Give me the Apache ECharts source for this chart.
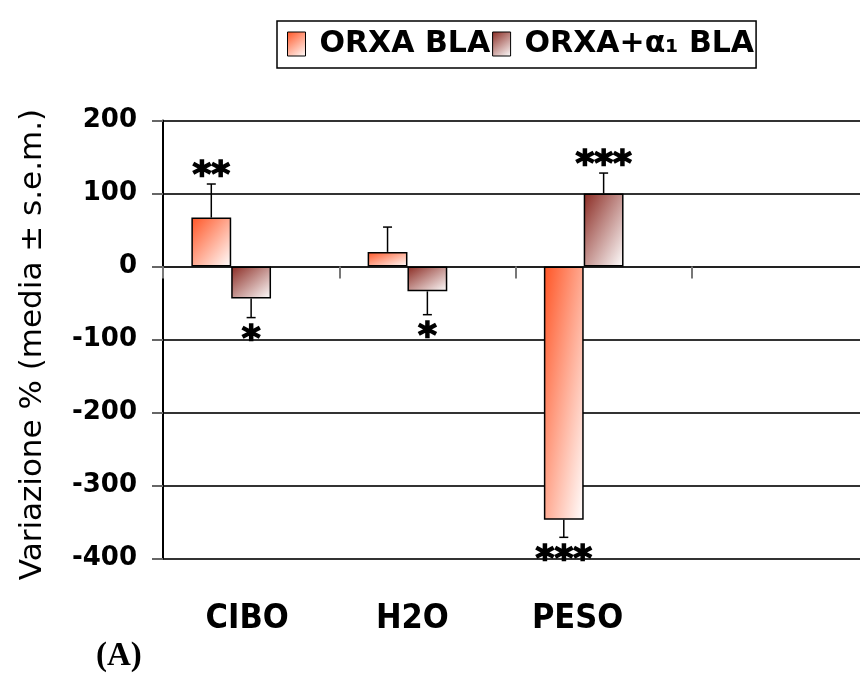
<!DOCTYPE html>
<html>
<head>
<meta charset="utf-8">
<script src="https://cdn.jsdelivr.net/npm/echarts@6/dist/echarts.min.js"></script>
<style>
  html, body { margin: 0; padding: 0; background: #fff; }
  #chart { width: 860px; height: 682px; }
</style>
</head>
<body>
<div id="chart"></div>
<script>
// Percent change (mean ± s.e.m.) for food, water and body weight
const categories = ['CIBO', 'H2O', 'PESO', ''];
const seriesNames = ['ORXA BLA', 'ORXA+α₁ BLA'];
const orxaValues = [67, 20, -347, '-'];
const orxaErrors = [46, 34, 24, 0];
const orxaStars = ['**', '', '***', ''];
const alphaValues = [-44, -34, 100, '-'];
const alphaErrors = [26, 32, 28, 0];
const alphaStars = ['*', '*', '***', ''];
const yTicks = [-400, -300, -200, -100, 0, 100, 200];

const ORANGE = '#ff5424';
const MAROON = '#8a2a22';
const BAR_FRACTION = 0.226;
const STAR_FONT = 36;

const chart = echarts.init(document.getElementById('chart'), null, { renderer: 'canvas' });

function boxGradient(from, x2, y2) {
  return new echarts.graphic.LinearGradient(0, 0, x2, y2, [
    { offset: 0, color: from },
    { offset: 1, color: '#ffffff' }
  ]);
}

// Error bar with cap and significance stars; slot is the bar's offset in bar widths
function errorRenderer(slot, values, errors, stars) {
  return function (params, api) {
    const i = params.dataIndex;
    const v = values[i];
    if (v === '-' || errors[i] === 0) return null;
    const sign = v >= 0 ? 1 : -1;
    const bw = api.size([1, 0])[0] * BAR_FRACTION;
    const base = api.coord([i, v]);
    const tip = api.coord([i, v + sign * errors[i]]);
    const x = base[0] + slot * bw;
    const children = [
      { type: 'line', shape: { x1: x, y1: base[1], x2: x, y2: tip[1] },
        style: { stroke: '#000', lineWidth: 1.5 } },
      { type: 'line', shape: { x1: x - 4.5, y1: tip[1], x2: x + 4.5, y2: tip[1] },
        style: { stroke: '#000', lineWidth: 1.5 } }
    ];
    if (stars[i]) {
      // the asterisk glyph sits high in its line box, so shift the box down
      const cy = tip[1] - sign * 15 + STAR_FONT * 0.22;
      children.push({
        type: 'text',
        style: {
          x: x, y: cy, text: stars[i],
          font: 'bold ' + STAR_FONT + 'px "DejaVu Sans"',
          fill: '#000', stroke: '#000', lineWidth: 1.5,
          align: 'center', verticalAlign: 'middle'
        }
      });
    }
    return { type: 'group', children: children };
  };
}

const option = {
  animation: false,
  backgroundColor: '#ffffff',
  legend: {
    data: seriesNames,
    left: 277,
    top: 21,
    orient: 'horizontal',
    icon: 'rect',
    itemWidth: 18,
    itemHeight: 24,
    itemGap: 2,
    borderColor: '#000',
    borderWidth: 1.5,
    padding: [8, 2, 9, 10],
    itemStyle: { borderColor: '#000', borderWidth: 1 },
    textStyle: {
      fontFamily: '"DejaVu Sans"', fontWeight: 'bold', fontSize: 30,
      color: '#000', padding: [0, 0, 0, 9]
    }
  },
  grid: [
    {
      // plotting area
      left: 163, width: 705, top: 120.5, height: 438,
      containLabel: false, outerBoundsMode: 'none'
    },
    {
      // band that carries the category names under the plot
      left: 164.5, width: 661, top: 120.5, height: 438,
      containLabel: false, outerBoundsMode: 'none'
    }
  ],
  xAxis: [
    {
      type: 'category',
      gridIndex: 0,
      data: categories,
      axisLine: { onZero: true, lineStyle: { color: '#222', width: 2 } },
      axisTick: { show: true, length: 12, interval: 0, lineStyle: { color: '#777', width: 2 } },
      axisLabel: { show: false },
      splitLine: { show: false }
    },
    {
      type: 'category',
      gridIndex: 1,
      data: categories,
      position: 'bottom',
      axisLine: { show: false, onZero: false },
      axisTick: { show: false },
      axisLabel: {
        margin: 44,
        fontFamily: '"Liberation Sans Narrow", "DejaVu Sans Condensed", sans-serif',
        fontWeight: 'bold', fontSize: 34, color: '#000'
      },
      splitLine: { show: false }
    }
  ],
  yAxis: [
    {
      type: 'value',
      gridIndex: 0,
      min: yTicks[0],
      max: yTicks[yTicks.length - 1],
      interval: 100,
      name: 'Variazione % (media ± s.e.m.)',
      nameLocation: 'middle',
      nameRotate: 90,
      nameGap: 115,
      nameTextStyle: {
        fontFamily: '"DejaVu Sans"', fontSize: 31, color: '#000', padding: [0, 10, 0, 0]
      },
      axisLine: { show: true, lineStyle: { color: '#000', width: 2 } },
      axisTick: { show: true, length: 11, lineStyle: { color: '#666', width: 2 } },
      axisLabel: {
        margin: 26, fontFamily: '"DejaVu Sans"', fontWeight: 'bold', fontSize: 26, color: '#000'
      },
      splitLine: { show: true, lineStyle: { color: '#333', width: 2 } }
    },
    {
      type: 'value',
      gridIndex: 1,
      min: yTicks[0],
      max: yTicks[yTicks.length - 1],
      show: false
    }
  ],
  series: [
    {
      name: seriesNames[0], type: 'bar', data: orxaValues,
      barWidth: (BAR_FRACTION * 100) + '%', barGap: '0%',
      itemStyle: { color: boxGradient(ORANGE, 1, 1), borderColor: '#000', borderWidth: 1.5 },
      z: 2
    },
    {
      name: seriesNames[1], type: 'bar', data: alphaValues,
      barWidth: (BAR_FRACTION * 100) + '%', barGap: '0%',
      itemStyle: { color: boxGradient(MAROON, 1, 1), borderColor: '#000', borderWidth: 1.5 },
      z: 2
    },
    {
      // empty slot that keeps each pair of bars left of the category centre
      name: 'spacer', type: 'bar', data: categories.map(() => '-'),
      barWidth: (BAR_FRACTION * 100) + '%', barGap: '0%'
    },
    {
      name: 'err0', type: 'custom', z: 4,
      data: orxaValues.map((v, i) => [i, v === '-' ? 0 : v]),
      renderItem: errorRenderer(-1, orxaValues, orxaErrors, orxaStars)
    },
    {
      name: 'err1', type: 'custom', z: 4,
      data: alphaValues.map((v, i) => [i, v === '-' ? 0 : v]),
      renderItem: errorRenderer(0, alphaValues, alphaErrors, alphaStars)
    }
  ],
  graphic: [
    {
      type: 'text', left: 96, top: 640,
      style: { text: '(A)', font: 'bold 33px "Liberation Serif", "DejaVu Serif", serif', fill: '#000' }
    }
  ]
};

chart.setOption(option);

// Restyle each bar with a corner-to-corner gradient whose bands follow the bar's anti-diagonal
const pxPerUnit = Math.abs(chart.convertToPixel({ yAxisIndex: 0 }, 0) - chart.convertToPixel({ yAxisIndex: 0 }, 100)) / 100;
const catWidth = Math.abs(chart.convertToPixel({ xAxisIndex: 0 }, 1) - chart.convertToPixel({ xAxisIndex: 0 }, 0));
const barPx = catWidth * BAR_FRACTION;
function styledData(values, from) {
  return values.map(v => {
    if (v === '-') return '-';
    const h = Math.abs(v) * pxPerUnit;
    const w = barPx;
    const s = w * w + h * h;
    return { value: v, itemStyle: { color: boxGradient(from, 2 * h * h / s, 2 * w * w / s) } };
  });
}
chart.setOption({
  series: [
    { name: seriesNames[0], data: styledData(orxaValues, ORANGE) },
    { name: seriesNames[1], data: styledData(alphaValues, MAROON) }
  ]
});
</script>
</body>
</html>
